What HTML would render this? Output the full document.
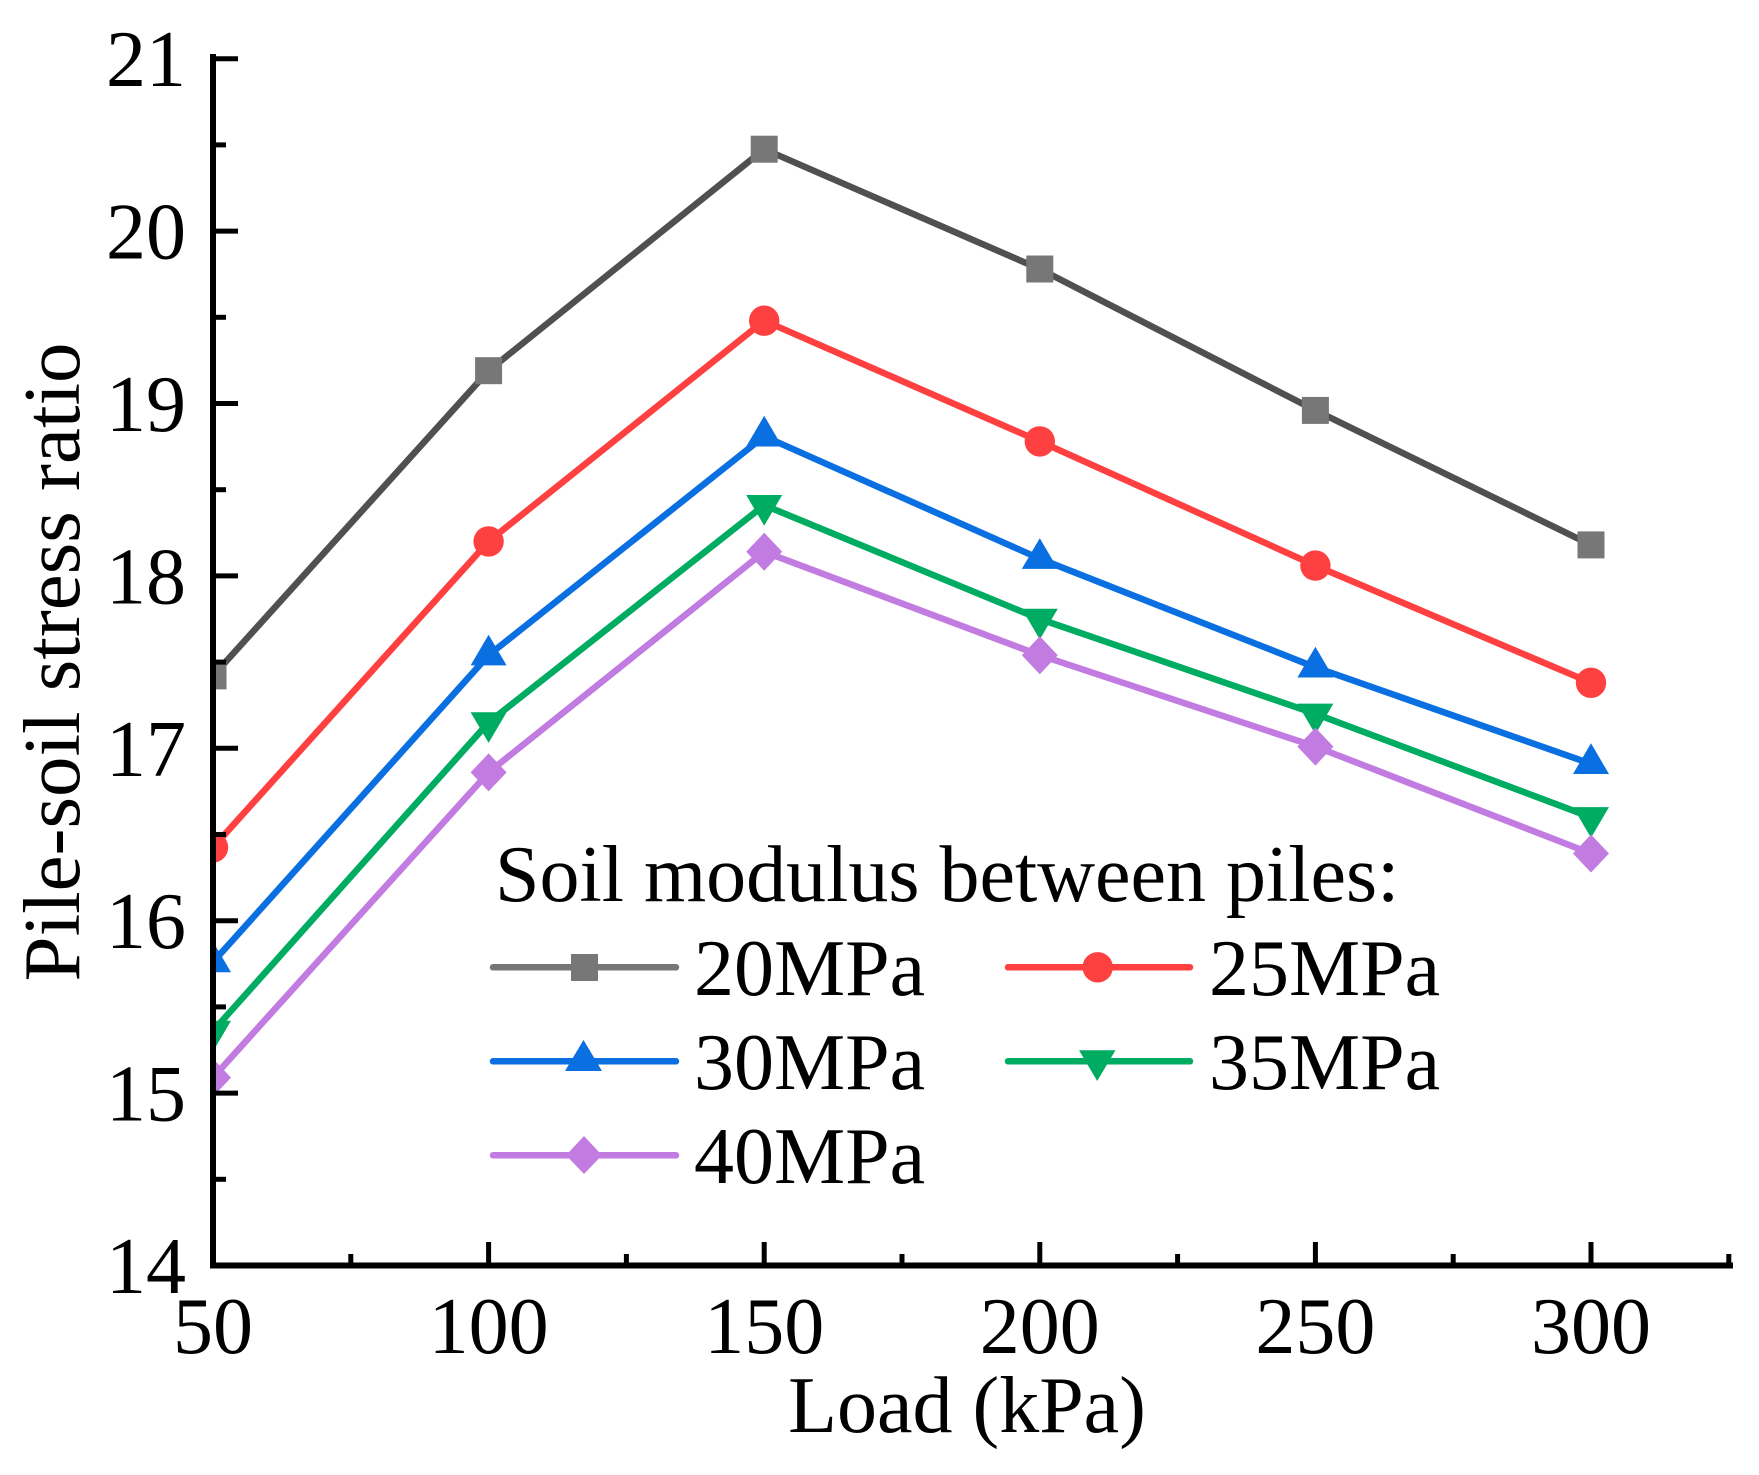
<!DOCTYPE html>
<html>
<head>
<meta charset="utf-8">
<style>
  html, body { margin: 0; padding: 0; background: #ffffff; }
  svg { display: block; }
  text { font-family: "Liberation Serif", "Times New Roman", serif; fill: #000; }
</style>
</head>
<body>
<svg width="1759" height="1475" viewBox="0 0 1759 1475" xmlns="http://www.w3.org/2000/svg">
  <defs>
    <clipPath id="plot">
      <rect x="213" y="0" width="1546" height="1265.5"/>
    </clipPath>
  </defs>
  <rect x="0" y="0" width="1759" height="1475" fill="#ffffff"/>

  <g clip-path="url(#plot)" stroke-linejoin="round">
    <!-- 20MPa -->
    <polyline fill="none" stroke="#505050" stroke-width="6.5"
      points="213,675.9 488.6,370.7 764.2,149.2 1039.8,269.0 1315.4,410.4 1591,544.9"/>
    <g fill="#777777">
      <rect x="199.5" y="662.4" width="27" height="27"/>
      <rect x="475.1" y="357.2" width="27" height="27"/>
      <rect x="750.7" y="135.7" width="27" height="27"/>
      <rect x="1026.3" y="255.5" width="27" height="27"/>
      <rect x="1301.9" y="396.9" width="27" height="27"/>
      <rect x="1577.5" y="531.4" width="27" height="27"/>
    </g>

    <!-- 25MPa -->
    <polyline fill="none" stroke="#FF4040" stroke-width="6.5"
      points="213,847.4 488.6,541.4 764.2,320.7 1039.8,441.4 1315.4,565.6 1591,682.8"/>
    <g fill="#FF4040">
      <circle cx="213" cy="847.4" r="15.2"/>
      <circle cx="488.6" cy="541.4" r="15.2"/>
      <circle cx="764.2" cy="320.7" r="15.2"/>
      <circle cx="1039.8" cy="441.4" r="15.2"/>
      <circle cx="1315.4" cy="565.6" r="15.2"/>
      <circle cx="1591" cy="682.8" r="15.2"/>
    </g>

    <!-- 30MPa -->
    <polyline fill="none" stroke="#0A6FE0" stroke-width="6.5"
      points="213,962.1 488.6,655.2 764.2,436.3 1039.8,558.7 1315.4,667.3 1591,763.8"/>
    <g fill="#0A6FE0">
      <polygon points="195,972.3 231,972.3 213,941.6"/>
      <polygon points="470.6,665.4 506.6,665.4 488.6,634.7"/>
      <polygon points="746.2,446.5 782.2,446.5 764.2,415.8"/>
      <polygon points="1021.8,568.9 1057.8,568.9 1039.8,538.2"/>
      <polygon points="1297.4,677.5 1333.4,677.5 1315.4,646.8"/>
      <polygon points="1573,774.0 1609,774.0 1591,743.3"/>
    </g>

    <!-- 35MPa -->
    <polyline fill="none" stroke="#00AB62" stroke-width="6.5"
      points="213,1031.0 488.6,722.4 764.2,505.2 1039.8,619.0 1315.4,713.8 1591,817.3"/>
    <g fill="#00AB62">
      <polygon points="195,1020.8 231,1020.8 213,1051.5"/>
      <polygon points="470.6,712.2 506.6,712.2 488.6,742.9"/>
      <polygon points="746.2,495.0 782.2,495.0 764.2,525.7"/>
      <polygon points="1021.8,608.8 1057.8,608.8 1039.8,639.5"/>
      <polygon points="1297.4,703.6 1333.4,703.6 1315.4,734.3"/>
      <polygon points="1573,807.1 1609,807.1 1591,837.8"/>
    </g>

    <!-- 40MPa -->
    <polyline fill="none" stroke="#C27BE0" stroke-width="6.5"
      points="213,1077.6 488.6,772.4 764.2,551.8 1039.8,655.2 1315.4,746.6 1591,853.5"/>
    <g fill="#C27BE0">
      <polygon points="213,1058.6 231,1077.6 213,1096.6 195,1077.6"/>
      <polygon points="488.6,753.4 506.6,772.4 488.6,791.4 470.6,772.4"/>
      <polygon points="764.2,532.8 782.2,551.8 764.2,570.8 746.2,551.8"/>
      <polygon points="1039.8,636.2 1057.8,655.2 1039.8,674.2 1021.8,655.2"/>
      <polygon points="1315.4,727.6 1333.4,746.6 1315.4,765.6 1297.4,746.6"/>
      <polygon points="1591,834.5 1609,853.5 1591,872.5 1573,853.5"/>
    </g>
  </g>

  <!-- Axes -->
  <g stroke="#000" stroke-linecap="square">
    <line x1="213" y1="57" x2="213" y2="1265.5" stroke-width="6"/>
    <line x1="213" y1="1265.5" x2="1730" y2="1265.5" stroke-width="6"/>
  </g>
  <!-- Y ticks -->
  <g stroke="#000" stroke-width="5">
    <line x1="213" y1="58.7" x2="238" y2="58.7"/>
    <line x1="213" y1="231.1" x2="238" y2="231.1"/>
    <line x1="213" y1="403.5" x2="238" y2="403.5"/>
    <line x1="213" y1="575.9" x2="238" y2="575.9"/>
    <line x1="213" y1="748.3" x2="238" y2="748.3"/>
    <line x1="213" y1="920.7" x2="238" y2="920.7"/>
    <line x1="213" y1="1093.1" x2="238" y2="1093.1"/>
    <line x1="213" y1="144.9" x2="226" y2="144.9"/>
    <line x1="213" y1="317.3" x2="226" y2="317.3"/>
    <line x1="213" y1="489.7" x2="226" y2="489.7"/>
    <line x1="213" y1="662.1" x2="226" y2="662.1"/>
    <line x1="213" y1="834.5" x2="226" y2="834.5"/>
    <line x1="213" y1="1006.9" x2="226" y2="1006.9"/>
    <line x1="213" y1="1179.3" x2="226" y2="1179.3"/>
  </g>
  <!-- X ticks -->
  <g stroke="#000" stroke-width="5">
    <line x1="488.6" y1="1265.5" x2="488.6" y2="1242"/>
    <line x1="764.2" y1="1265.5" x2="764.2" y2="1242"/>
    <line x1="1039.8" y1="1265.5" x2="1039.8" y2="1242"/>
    <line x1="1315.4" y1="1265.5" x2="1315.4" y2="1242"/>
    <line x1="1591" y1="1265.5" x2="1591" y2="1242"/>
    <line x1="350.8" y1="1265.5" x2="350.8" y2="1254"/>
    <line x1="626.4" y1="1265.5" x2="626.4" y2="1254"/>
    <line x1="902" y1="1265.5" x2="902" y2="1254"/>
    <line x1="1177.6" y1="1265.5" x2="1177.6" y2="1254"/>
    <line x1="1453.2" y1="1265.5" x2="1453.2" y2="1254"/>
    <line x1="1728.8" y1="1265.5" x2="1728.8" y2="1254"/>
  </g>

  <!-- Y tick labels -->
  <g font-size="80" text-anchor="end">
    <text x="186" y="86.2">21</text>
    <text x="186" y="258.6">20</text>
    <text x="186" y="431">19</text>
    <text x="186" y="603.4">18</text>
    <text x="186" y="775.8">17</text>
    <text x="186" y="948.2">16</text>
    <text x="186" y="1120.6">15</text>
    <text x="186" y="1293">14</text>
  </g>
  <!-- X tick labels -->
  <g font-size="80" text-anchor="middle">
    <text x="213" y="1353">50</text>
    <text x="488.6" y="1353">100</text>
    <text x="764.2" y="1353">150</text>
    <text x="1039.8" y="1353">200</text>
    <text x="1315.4" y="1353">250</text>
    <text x="1591" y="1353">300</text>
  </g>

  <!-- Axis titles -->
  <text x="967" y="1432" font-size="80" text-anchor="middle">Load (kPa)</text>
  <text transform="translate(79,662) rotate(-90)" font-size="81" text-anchor="middle">Pile-soil stress ratio</text>

  <!-- Legend -->
  <text x="495" y="901" font-size="80">Soil modulus between piles:</text>

  <g stroke-width="6.5" stroke-linecap="round">
    <line x1="493" y1="967.3" x2="676" y2="967.3" stroke="#777777"/>
    <line x1="1008" y1="967.3" x2="1190" y2="967.3" stroke="#FF4040"/>
    <line x1="493" y1="1061.3" x2="676" y2="1061.3" stroke="#0A6FE0"/>
    <line x1="1008" y1="1061.3" x2="1190" y2="1061.3" stroke="#00AB62"/>
    <line x1="493" y1="1155.3" x2="676" y2="1155.3" stroke="#C27BE0"/>
  </g>
  <rect x="571" y="954" width="27" height="27" fill="#777777"/>
  <circle cx="1097.7" cy="967.3" r="15.2" fill="#FF4040"/>
  <polygon points="565,1071 602,1071 583.5,1040" fill="#0A6FE0"/>
  <polygon points="1079,1050.3 1115.5,1050.3 1097.2,1081" fill="#00AB62"/>
  <polygon points="584,1136 602,1155.3 584,1174 566,1155.3" fill="#C27BE0"/>

  <g font-size="80">
    <text x="694" y="995">20MPa</text>
    <text x="1209" y="995">25MPa</text>
    <text x="694" y="1089">30MPa</text>
    <text x="1209" y="1089">35MPa</text>
    <text x="694" y="1183">40MPa</text>
  </g>
</svg>
</body>
</html>
